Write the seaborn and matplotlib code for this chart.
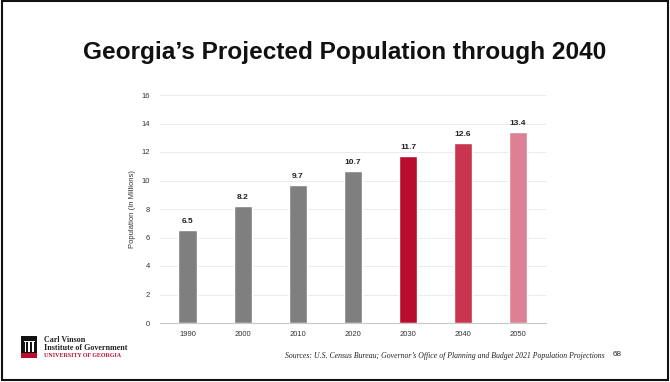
import matplotlib
matplotlib.use("Agg")
import matplotlib.pyplot as plt
import seaborn as sns
import pandas as pd
from matplotlib.patches import Rectangle

years = ["1990", "2000", "2010", "2020", "2030", "2040", "2050"]
population = [6.5, 8.2, 9.7, 10.7, 11.7, 12.6, 13.4]
bar_colors = ["#7f7f7f", "#7f7f7f", "#7f7f7f", "#7f7f7f", "#ba0c2f", "#c9354f", "#dc8193"]
y_ticks = [0, 2, 4, 6, 8, 10, 12, 14, 16]

sns.set_theme(style="white")
plt.rcParams["font.family"] = ["Liberation Sans", "DejaVu Sans"]

fig = plt.figure(figsize=(6.7, 3.82), dpi=100)
fig.patch.set_facecolor("white")

ax = fig.add_axes([160 / 670, 1 - 323 / 382, (545.7 - 160) / 670, (323 - 95) / 382])
df = pd.DataFrame({"Year": years, "Population": population})
sns.barplot(data=df, x="Year", y="Population", hue="Year", palette=bar_colors,
            legend=False, width=0.33, ax=ax, saturation=1)

ax.set_xlim(-0.5, 6.5)
ax.set_ylim(0, 16)
ax.set_yticks(y_ticks)
ax.set_yticklabels([str(t) for t in y_ticks], fontsize=5.5, color="#333333")
ax.tick_params(axis="x", labelsize=5.5, colors="#333333", length=0, pad=6)
ax.tick_params(axis="y", length=0, pad=7)
ax.grid(axis="y", color="#e8e8e8", linewidth=0.6)
ax.set_axisbelow(True)
for s in ["top", "right", "left"]:
    ax.spines[s].set_visible(False)
ax.spines["bottom"].set_color("#c8c8c8")
ax.spines["bottom"].set_linewidth(0.8)
ax.set_xlabel("")
ax.set_ylabel("Population (In Millions)", fontsize=5.5, color="#333333", labelpad=4)

for i, v in enumerate(population):
    ax.text(i, v + 0.35, f"{v:.1f}", ha="center", va="bottom", fontsize=6,
            fontweight="bold", color="#222222")

fig.text(345 / 670, 1 - 52 / 382, "Georgia\u2019s Projected Population through 2040",
         ha="center", va="center", fontsize=17.6, fontweight="bold", color="#111111")

fig.text(605 / 670, 1 - 356 / 382,
         "Sources: U.S. Census Bureau; Governor\u2019s Office of Planning and Budget 2021 Population Projections",
         ha="right", va="center", fontsize=5.6, style="italic", family="Liberation Serif", color="#222222")
fig.text(613 / 670, 1 - 355 / 382, "68", ha="left", va="center", fontsize=5.8, color="#222222")

# logo
W, H = 670, 382
def fx(x): return x / W
def fy(y): return 1 - y / H
fig.add_artist(Rectangle((fx(21), fy(358)), 16 / W, 22 / H, transform=fig.transFigure,
                         facecolor="#111111", edgecolor="none"))
fig.add_artist(Rectangle((fx(21), fy(358)), 16 / W, 5 / H, transform=fig.transFigure,
                         facecolor="#ba0c2f", edgecolor="none"))
for xx in [24.5, 28.4, 32.3]:
    fig.add_artist(Rectangle((fx(xx), fy(352)), 1.2 / W, 10 / H, transform=fig.transFigure,
                             facecolor="white", edgecolor="none"))
fig.add_artist(Rectangle((fx(23.5), fy(342)), 11 / W, 1.2 / H, transform=fig.transFigure,
                         facecolor="white", edgecolor="none"))
fig.text(fx(44), fy(340.5), "Carl Vinson", fontsize=5.8, fontweight="bold",
         family="Liberation Serif", color="#222222", va="center")
fig.text(fx(44), fy(348.5), "Institute of Government", fontsize=5.8, fontweight="bold",
         family="Liberation Serif", color="#222222", va="center")
fig.text(fx(44), fy(355.8), "UNIVERSITY OF GEORGIA", fontsize=4.3, fontweight="bold",
         family="Liberation Serif", color="#ba0c2f", va="center")

# slide border
fig.add_artist(Rectangle((1.5 / W, 2.5 / H), 666 / W, 378.5 / H, transform=fig.transFigure,
                         facecolor="none", edgecolor="#111111", linewidth=1.5))

fig.savefig("out.png", dpi=100)
